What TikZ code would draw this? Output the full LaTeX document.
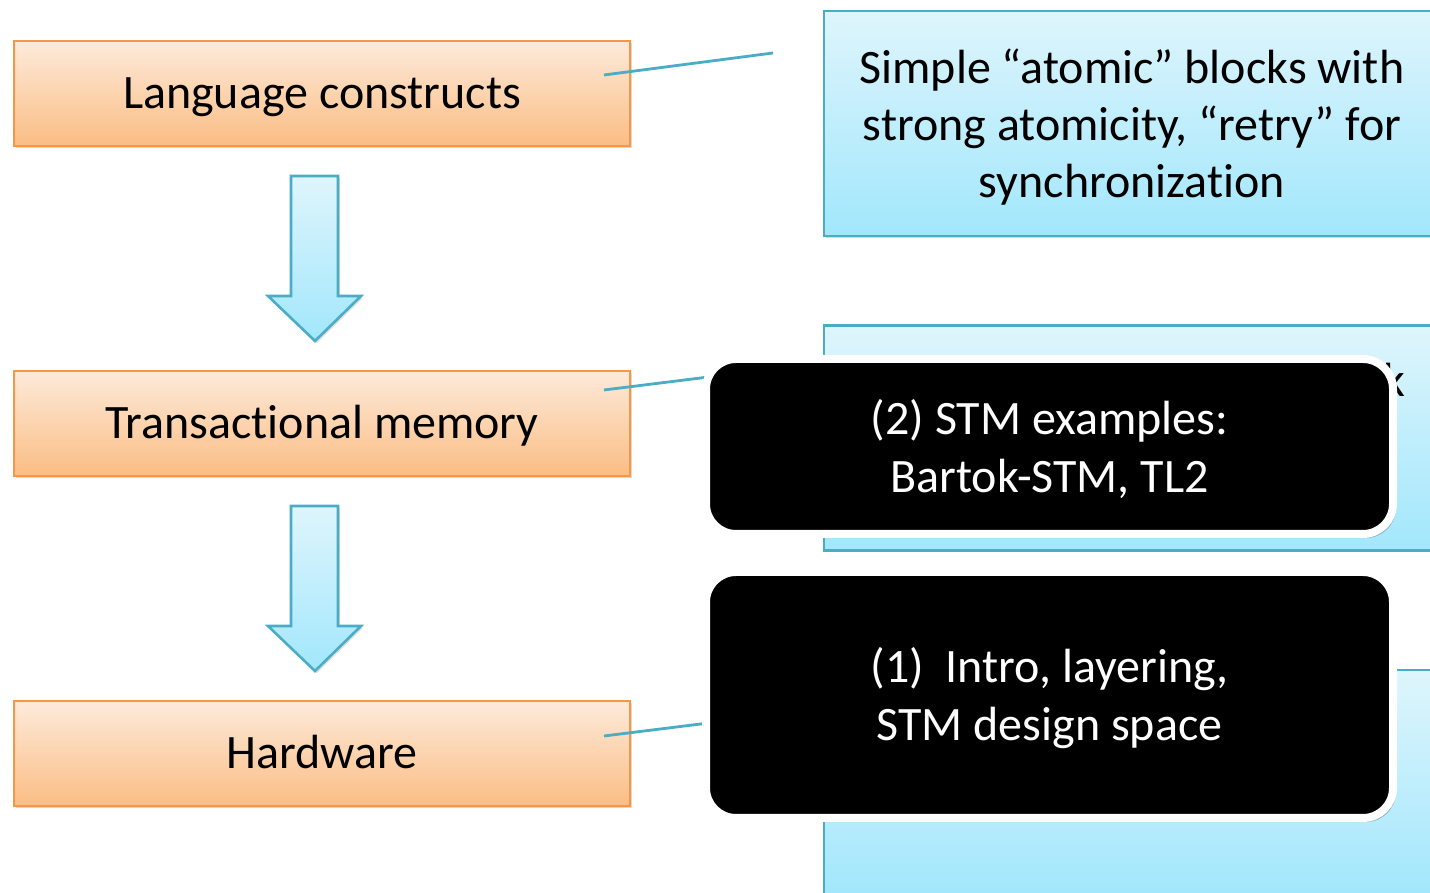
\documentclass[tikz,border=0pt]{standalone}
\usepackage{fontspec}
\setmainfont[Ligatures=NoCommon]{Carlito}
\usetikzlibrary{shadows}
\definecolor{orbord}{HTML}{F79646}
\definecolor{ortop}{HTML}{FDEADA}
\definecolor{orbot}{HTML}{FBBD84}
\definecolor{blbord}{HTML}{4BACC6}
\definecolor{bltop}{HTML}{DEF5FC}
\definecolor{blbot}{HTML}{A2E7FC}
\tikzset{
  layer/.style={draw=orbord, line width=2.8pt, top color=ortop, bottom color=orbot,
    minimum width=616pt, minimum height=105pt, inner sep=0pt,
    text height=38pt, text depth=7pt,
    font=\fontsize{48}{57}\selectfont,
    drop shadow={shadow xshift=2pt, shadow yshift=-2pt, opacity=0.25, fill=black!60}},
  infobox/.style={draw=blbord, line width=2.8pt, top color=bltop, bottom color=blbot,
    minimum width=616pt, minimum height=225pt, inner sep=0pt,
    drop shadow={shadow xshift=2pt, shadow yshift=-2pt, opacity=0.25, fill=black!60}},
  infotext/.style={inner sep=0pt, align=center, font=\fontsize{48}{57}\selectfont},
  blackbox/.style={draw=white, line width=8pt, fill=black, rounded corners=30pt,
    minimum width=687pt, inner sep=0pt,
    drop shadow={shadow xshift=3pt, shadow yshift=-4pt, opacity=0.35, fill=black!70}},
  blacktext/.style={inner sep=0pt, align=center, text=white, font=\fontsize{48}{58}\selectfont},
  callout/.style={draw=blbord, line width=2.8pt},
  downarrow/.style={draw=blbord, line width=2.6pt, top color=bltop, bottom color=blbot,
    line join=miter,
    drop shadow={shadow xshift=2pt, shadow yshift=-2pt, opacity=0.2, fill=black!60}}
}
\begin{document}
\begin{tikzpicture}[x=1pt,y=1pt]
\useasboundingbox (0,0) rectangle (1430,893);
\clip (0,0) rectangle (1430,893);
% left layers
\node[layer] (lang) at (322,799.5) {Language constructs};
\node[layer] (tm) at (322,469.5) {Transactional memory};
\node[layer] (hw) at (322,139.5) {Hardware};
% down arrows
\path[downarrow] (291,717) -- (338,717) -- (338,597) -- (361,597) -- (315,552) -- (268,597) -- (291,597) -- cycle;
\path[downarrow] (291,387) -- (338,387) -- (338,267) -- (361,267) -- (315,222) -- (268,267) -- (291,267) -- cycle;
% right info boxes
\node[infobox] (info1) at (1132,769.5) {};
\node[infotext] (info1text) at ([yshift=-4pt]info1.center) {Simple “atomic” blocks with\\strong atomicity, “retry” for\\synchronization};
\node[infobox] (info2) at (1132,455) {};
\node[font=\fontsize{48}{57}\selectfont, anchor=base] (kpart) at (1394,496) {k};
\node[infobox] (info3) at (1132,110.5) {};
% callout lines
\coordinate (c1a) at (604,818);
\coordinate (c1b) at (773,840);
\coordinate (c2a) at (604,503);
\coordinate (c2b) at (773,524);
\coordinate (c3a) at (604,157);
\coordinate (c3b) at (773,178);
\draw[callout] (c1a) -- (c1b);
\draw[callout] (c2a) -- (c2b);
\draw[callout] (c3a) -- (c3b);
% black overlay boxes
\node[blackbox, minimum height=175pt] (stm2) at (1049.5,446.5) {};
\node[blacktext] (stm2text) at ([yshift=-3pt]stm2.center) {(2) STM examples:\\Bartok-STM, TL2};
\node[blackbox, minimum height=246pt] (stm1) at (1049.5,198) {};
\node[blacktext] (stm1text) at ([yshift=-3pt]stm1.center) {(1)\ \ Intro, layering,\\STM design space};
\end{tikzpicture}
\end{document}
